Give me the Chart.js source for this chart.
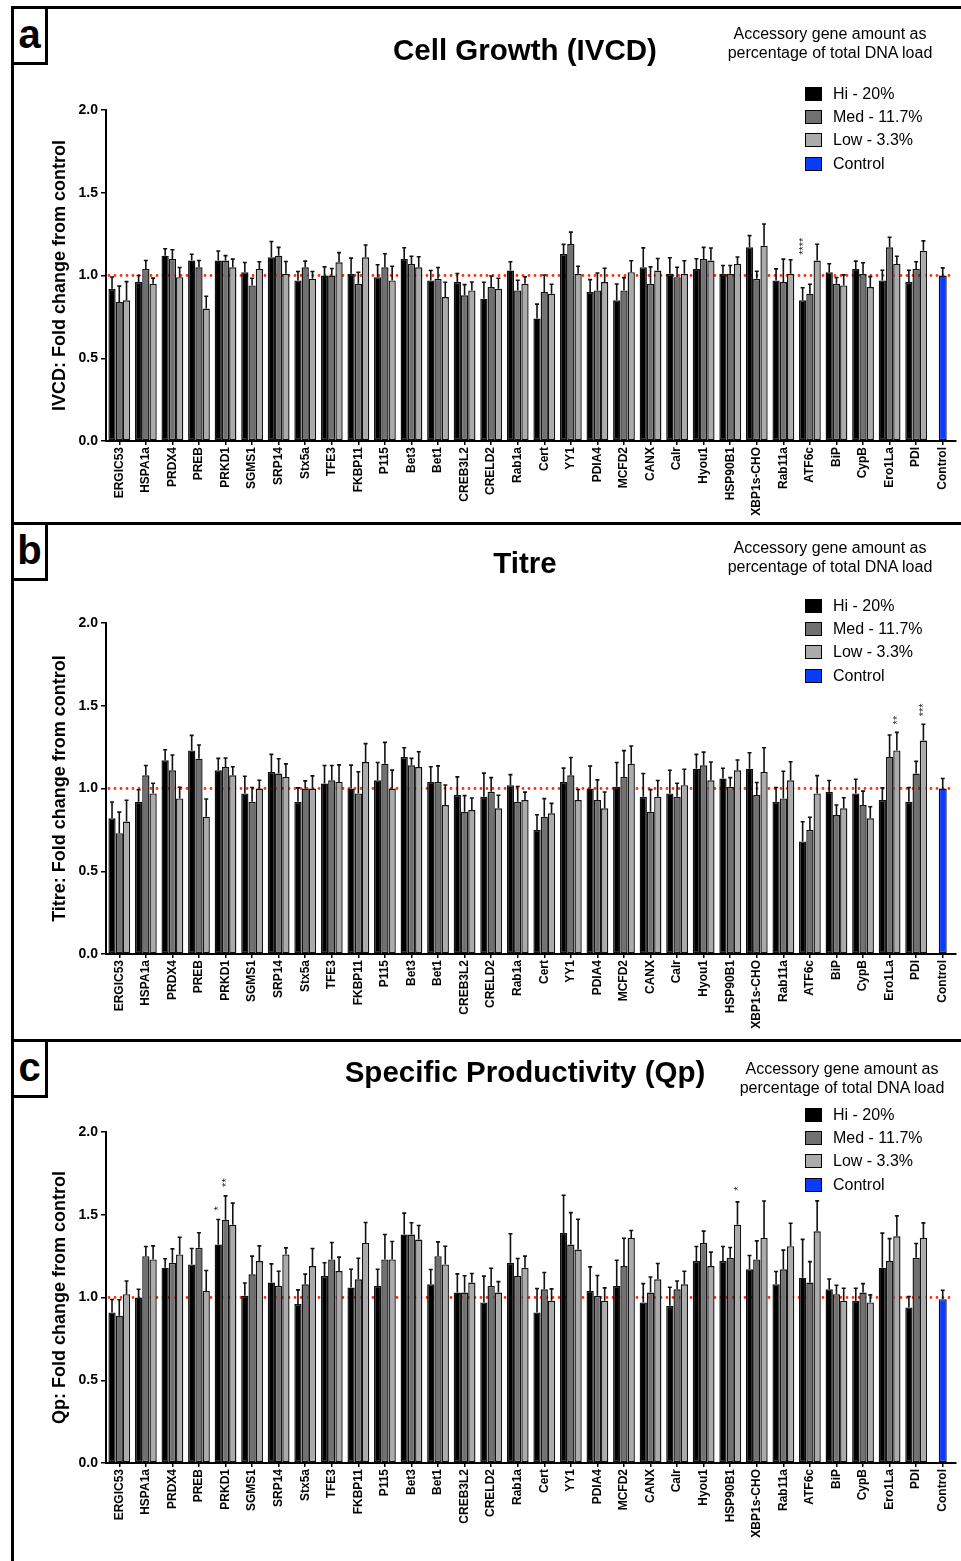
<!DOCTYPE html>
<html><head><meta charset="utf-8">
<script src="https://cdn.jsdelivr.net/npm/chart.js@4.4.1/dist/chart.umd.min.js"></script>
<style>
html,body{margin:0;padding:0;background:#fff;}
body{width:961px;height:1561px;position:relative;overflow:hidden;font-family:"Liberation Sans",Arial,sans-serif;color:#000;}
.hline{position:absolute;left:11px;right:0;height:3px;background:#000;z-index:3;}
.vline{position:absolute;left:11px;top:6px;width:3px;bottom:0;background:#000;z-index:3;}
.letter{position:absolute;left:11px;width:31px;height:53px;border:3px solid #000;font-weight:bold;font-size:40px;line-height:50px;text-align:center;background:#fff;z-index:4;}
.title{position:absolute;font-weight:bold;font-size:29.5px;line-height:32px;text-align:center;width:520px;left:265px;z-index:2;}
.acc{position:absolute;font-size:16px;line-height:19px;text-align:center;width:260px;z-index:2;}
.leg{position:absolute;left:805px;font-size:16px;z-index:2;}
.leg div{height:23.4px;display:flex;align-items:center;white-space:nowrap;}
.leg span.sw{display:inline-block;width:15px;height:12px;border:1.5px solid #000;margin-right:11px;}
canvas{position:absolute;left:0;z-index:1;}
</style>
</head>
<body>
<div class="vline"></div>
<div class="hline" style="top:6px"></div>
<div class="hline" style="top:522px"></div>
<div class="hline" style="top:1039px"></div>
<div class="letter" style="top:6px">a</div>
<div class="letter" style="top:522px">b</div>
<div class="letter" style="top:1039px">c</div>

<div class="title" style="top:34px">Cell Growth (IVCD)</div>
<div class="title" style="top:547px">Titre</div>
<div class="title" style="top:1056px">Specific Productivity (Qp)</div>

<div class="acc" style="left:700px;top:24px">Accessory gene amount as<br>percentage of total DNA load</div>
<div class="acc" style="left:700px;top:538px">Accessory gene amount as<br>percentage of total DNA load</div>
<div class="acc" style="left:712px;top:1059px">Accessory gene amount as<br>percentage of total DNA load</div>

<div class="leg" id="legA" style="top:82px"></div>
<div class="leg" id="legB" style="top:594px"></div>
<div class="leg" id="legC" style="top:1103px"></div>

<canvas id="cA" width="961" height="523" style="top:0px;width:961px;height:523px"></canvas>
<canvas id="cB" width="961" height="517" style="top:523px;width:961px;height:517px"></canvas>
<canvas id="cC" width="961" height="521" style="top:1040px;width:961px;height:521px"></canvas>

<script>
// ---------- DATA ----------
const categories = ['ERGIC53','HSPA1a','PRDX4','PREB','PRKD1','SGMS1','SRP14','Stx5a','TFE3','FKBP11','P115','Bet3','Bet1','CREB3L2','CRELD2','Rab1a','Cert','YY1','PDIA4','MCFD2','CANX','Calr','Hyou1','HSP90B1','XBP1s-CHO','Rab11a','ATF6c','BiP','CypB','Ero1La','PDI','Control'];
const seriesNames = ['Hi - 20%','Med - 11.7%','Low - 3.3%','Control'];
const yTicks = [0, 0.5, 1.0, 1.5, 2.0];

// Panel a: IVCD
const ivcdHi  = [0.92,0.96,1.12,1.09,1.09,1.02,1.11,0.97,1.00,1.01,0.99,1.10,0.97,0.96,0.86,1.03,0.74,1.13,0.90,0.85,1.05,1.01,1.04,1.01,1.17,0.97,0.85,1.02,1.04,0.97,0.96];
const ivcdMed = [0.84,1.04,1.10,1.05,1.09,0.94,1.12,1.05,1.00,0.95,1.05,1.07,0.98,0.88,0.93,0.91,0.90,1.19,0.91,0.91,0.95,0.99,1.10,1.01,0.98,0.96,0.89,0.95,1.01,1.17,1.04];
const ivcdLow = [0.85,0.95,0.99,0.80,1.05,1.04,1.01,0.98,1.08,1.11,0.97,1.05,0.87,0.91,0.92,0.95,0.89,1.01,0.96,1.02,1.03,1.01,1.09,1.07,1.18,1.01,1.09,0.94,0.93,1.07,1.15];
const ivcdControl = 1.00;
const ivcdHiErr  = [0.071,0.040,0.042,0.038,0.058,0.059,0.095,0.054,0.052,0.095,0.075,0.068,0.060,0.052,0.099,0.053,0.087,0.058,0.075,0.099,0.117,0.097,0.061,0.050,0.071,0.070,0.076,0.051,0.047,0.062,0.072];
const ivcdMedErr = [0.096,0.051,0.056,0.041,0.030,0.043,0.050,0.037,0.042,0.070,0.081,0.046,0.068,0.065,0.067,0.061,0.103,0.072,0.105,0.077,0.102,0.060,0.070,0.050,0.046,0.139,0.057,0.038,0.067,0.061,0.043];
const ivcdLowErr = [0.113,0.034,0.058,0.075,0.049,0.043,0.075,0.044,0.058,0.074,0.086,0.063,0.089,0.051,0.063,0.042,0.057,0.046,0.084,0.069,0.073,0.079,0.076,0.042,0.131,0.085,0.099,0.064,0.063,0.046,0.059];
const ivcdControlErr = 0.046;

// Panel b: Titre
const titreHi  = [0.82,0.92,1.17,1.23,1.11,0.97,1.10,0.92,1.03,1.00,1.05,1.19,1.04,0.96,0.95,1.02,0.75,1.04,1.00,1.01,0.95,0.97,1.12,1.06,1.12,0.92,0.68,0.98,0.97,0.93,0.92];
const titreMed = [0.73,1.08,1.11,1.18,1.13,0.92,1.09,1.00,1.05,0.97,1.15,1.14,1.04,0.86,0.98,0.92,0.83,1.08,0.93,1.07,0.86,0.95,1.14,1.01,0.96,0.94,0.75,0.84,0.90,1.19,1.09];
const titreLow = [0.80,0.97,0.94,0.83,1.08,1.00,1.07,1.00,1.04,1.16,1.00,1.13,0.90,0.87,0.88,0.93,0.85,0.93,0.88,1.15,0.95,1.02,1.05,1.11,1.10,1.05,0.97,0.88,0.82,1.23,1.29];
const titreControl = 1.00;
const titreHiErr  = [0.098,0.072,0.064,0.091,0.072,0.104,0.106,0.084,0.109,0.141,0.107,0.056,0.091,0.110,0.143,0.064,0.091,0.083,0.135,0.147,0.141,0.140,0.086,0.062,0.096,0.086,0.119,0.068,0.086,0.074,0.086];
const titreMedErr = [0.127,0.059,0.092,0.083,0.054,0.086,0.090,0.046,0.089,0.131,0.129,0.042,0.097,0.097,0.086,0.092,0.109,0.107,0.122,0.159,0.133,0.082,0.080,0.056,0.076,0.164,0.076,0.060,0.084,0.133,0.074];
const titreLowErr = [0.129,0.062,0.068,0.107,0.051,0.050,0.079,0.076,0.103,0.111,0.111,0.092,0.121,0.073,0.079,0.048,0.060,0.064,0.099,0.107,0.098,0.096,0.110,0.062,0.146,0.112,0.108,0.064,0.070,0.109,0.098];
const titreControlErr = 0.060;

// Panel c: Qp
const qpHi  = [0.91,1.00,1.18,1.20,1.32,1.01,1.09,0.96,1.13,1.06,1.07,1.38,1.08,1.03,0.97,1.21,0.91,1.39,1.04,1.07,0.97,0.95,1.22,1.22,1.17,1.08,1.12,1.05,0.98,1.18,0.94];
const qpMed = [0.89,1.25,1.21,1.30,1.47,1.14,1.07,1.08,1.23,1.11,1.23,1.38,1.25,1.03,1.07,1.13,1.05,1.32,1.01,1.19,1.03,1.05,1.33,1.24,1.23,1.17,1.09,1.02,1.03,1.22,1.24];
const qpLow = [1.02,1.23,1.26,1.04,1.44,1.22,1.26,1.19,1.16,1.33,1.23,1.35,1.20,1.09,1.03,1.18,0.98,1.29,0.98,1.36,1.11,1.08,1.19,1.44,1.36,1.31,1.40,0.98,0.97,1.37,1.36];
const qpControl = 0.99;
const qpHiErr  = [0.078,0.050,0.054,0.096,0.151,0.078,0.113,0.086,0.080,0.111,0.101,0.130,0.089,0.113,0.159,0.175,0.144,0.228,0.145,0.155,0.114,0.112,0.088,0.088,0.084,0.077,0.231,0.062,0.076,0.209,0.066];
const qpMedErr = [0.096,0.058,0.084,0.091,0.144,0.110,0.089,0.061,0.102,0.127,0.151,0.072,0.086,0.101,0.107,0.106,0.101,0.193,0.123,0.168,0.094,0.050,0.071,0.062,0.112,0.116,0.127,0.054,0.054,0.136,0.086];
const qpLowErr = [0.080,0.082,0.104,0.123,0.130,0.092,0.040,0.106,0.084,0.123,0.108,0.085,0.110,0.055,0.066,0.070,0.072,0.183,0.078,0.045,0.095,0.079,0.084,0.138,0.223,0.139,0.184,0.076,0.046,0.123,0.091];
const qpControlErr = 0.054;

// significance marks: category, series index, text
const ivcdStars  = [{cat:'ATF6c', s:0, text:'****', lift:33}];
const titreStars = [{cat:'Ero1La', s:2, text:'**', lift:8}, {cat:'PDI', s:2, text:'***', lift:8}];
const qpStars    = [{cat:'PRKD1', s:0, text:'*', lift:9}, {cat:'PRKD1', s:1, text:'**', lift:9}, {cat:'HSP90B1', s:2, text:'*', lift:11}];

// ---------- STYLE ----------
const colors = ['#000000','#717171','#ababab','#0a3cff'];
Chart.defaults.font.family = '"Liberation Sans", Arial, sans-serif';
Chart.defaults.color = '#000';

function buildLegend(id){
  const el = document.getElementById(id);
  seriesNames.forEach((n,i)=>{
    const d = document.createElement('div');
    d.innerHTML = '<span class="sw" style="background:'+colors[i]+'"></span>'+n;
    el.appendChild(d);
  });
}
['legA','legB','legC'].forEach(buildLegend);

const refLinePlugin = {
  id:'refLine',
  beforeDatasetsDraw(chart){
    const {ctx, chartArea, scales:{y}} = chart;
    const py = y.getPixelForValue(1);
    ctx.save();
    ctx.strokeStyle = '#ff2d10';
    ctx.lineWidth = 2.8;
    ctx.lineCap = 'round';
    ctx.setLineDash([0, 6]);
    ctx.beginPath();
    ctx.moveTo(chartArea.left + 3, py);
    ctx.lineTo(chartArea.right - 4, py);
    ctx.stroke();
    ctx.restore();
  }
};

const errPlugin = {
  id:'errbars',
  afterDatasetsDraw(chart, args, opts){
    const {ctx, scales:{y}} = chart;
    const errs = opts.errors;
    ctx.save();
    ctx.strokeStyle = '#111';
    ctx.lineWidth = 1.6;
    const tops = [];
    chart.data.datasets.forEach((ds, i)=>{
      const meta = chart.getDatasetMeta(i);
      tops[i] = [];
      meta.data.forEach((el, j)=>{
        const v = ds.data[j], e = errs[i][j];
        if (v == null || e == null) return;
        const top = y.getPixelForValue(v + e);
        tops[i][j] = {x: el.x, y: top};
        ctx.beginPath();
        ctx.moveTo(el.x, el.y);
        ctx.lineTo(el.x, top);
        ctx.moveTo(el.x - 2, top);
        ctx.lineTo(el.x + 2, top);
        ctx.stroke();
      });
    });
    ctx.fillStyle = '#222';
    ctx.font = '11px "Liberation Sans", Arial, sans-serif';
    ctx.textAlign = 'left';
    ctx.textBaseline = 'middle';
    (opts.stars || []).forEach(st=>{
      const j = chart.data.labels.indexOf(st.cat);
      const p = tops[st.s][j];
      if (!p) return;
      ctx.save();
      ctx.translate(p.x + 1, p.y - st.lift);
      ctx.rotate(-Math.PI/2);
      ctx.fillText(st.text, 0, 0);
      ctx.restore();
    });
    ctx.restore();
  }
};

function makeChart(id, hi, med, low, ctrl, hiE, medE, lowE, ctrlE, stars, yTitle, padTop, xHeight){
  const withGap = arr => categories.map((c,i)=> c === 'Control' ? null : arr[i]);
  const ctrlData = categories.map(c => c === 'Control' ? ctrl : null);
  const ctrlErr = categories.map(c => c === 'Control' ? ctrlE : null);
  const sets = [withGap(hi), withGap(med), withGap(low), ctrlData];
  const errs = [withGap(hiE), withGap(medE), withGap(lowE), ctrlErr];
  new Chart(document.getElementById(id), {
    type:'bar',
    data:{
      labels: categories,
      datasets: sets.map((d,i)=>({
        label: seriesNames[i],
        data: d,
        backgroundColor: colors[i],
        borderColor: '#111',
        borderWidth: 1.4,
        borderSkipped: false,
        maxBarThickness: i === 3 ? 8 : undefined
      }))
    },
    options:{
      responsive:false,
      animation:false,
      devicePixelRatio:1,
      layout:{padding:{top:padTop, left:0, right:5, bottom:0}},
      datasets:{bar:{categoryPercentage:0.82, barPercentage:1.0, skipNull:true}},
      plugins:{
        legend:{display:false},
        tooltip:{enabled:false},
        errbars:{errors:errs, stars:stars}
      },
      scales:{
        x:{
          type:'category',
          offset:true,
          grid:{offset:false, drawOnChartArea:false, drawTicks:true, tickLength:4, color:'#000', lineWidth:1.5},
          border:{color:'#000', width:2},
          ticks:{autoSkip:false, minRotation:90, maxRotation:90, padding:2, color:'#000', font:{weight:'bold', size:12}},
          afterFit(s){ s.height = xHeight; }
        },
        y:{
          min:0, max:2,
          afterBuildTicks(s){ s.ticks = yTicks.map(v=>({value:v})); },
          ticks:{callback:v=>Number(v).toFixed(1), padding:3, color:'#000', font:{weight:'bold', size:14}},
          grid:{drawOnChartArea:false, drawTicks:true, tickLength:5, color:'#000', lineWidth:1.5},
          border:{color:'#000', width:2},
          title:{display:true, text:yTitle, color:'#000', font:{weight:'bold', size:18}, padding:{top:49, bottom:0}},
          afterFit(s){ s.width = 106; }
        }
      }
    },
    plugins:[refLinePlugin, errPlugin]
  });
}

makeChart('cA', ivcdHi, ivcdMed, ivcdLow, ivcdControl, ivcdHiErr, ivcdMedErr, ivcdLowErr, ivcdControlErr, ivcdStars, 'IVCD: Fold change from control', 110, 82);
makeChart('cB', titreHi, titreMed, titreLow, titreControl, titreHiErr, titreMedErr, titreLowErr, titreControlErr, titreStars, 'Titre: Fold change from control', 100, 86);
makeChart('cC', qpHi, qpMed, qpLow, qpControl, qpHiErr, qpMedErr, qpLowErr, qpControlErr, qpStars, 'Qp: Fold change from control', 92, 98);
</script>
</body></html>
